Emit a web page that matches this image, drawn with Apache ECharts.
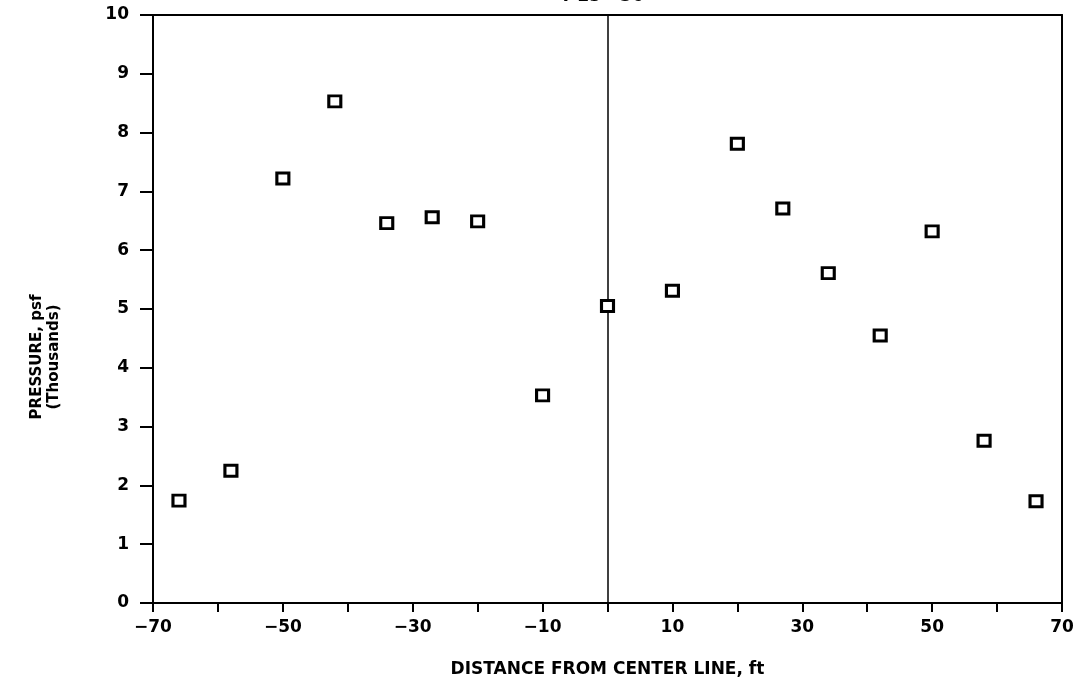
<!DOCTYPE html>
<html>
<head>
<meta charset="utf-8">
<script src="https://cdn.jsdelivr.net/npm/echarts@6/dist/echarts.min.js"></script>
<style>
  html, body { margin: 0; padding: 0; background: #fff; }
  #chart { width: 1090px; height: 686px; }
</style>
</head>
<body>
<div id="chart"></div>
<script>
// distance from center line (ft) and pressure (thousands psf)
const distances = [-66, -58, -50, -42, -34, -27, -20, -10, 0, 10, 20, 27, 34, 42, 50, 58, 66];
const pressures = [1.74, 2.25, 7.22, 8.53, 6.46, 6.56, 6.49, 3.53, 5.05, 5.31, 7.81, 6.71, 5.61, 4.55, 6.32, 2.76, 1.73];
const xLabelTicks = [-70, -50, -30, -10, 10, 30, 50, 70];
const titleText = "T 25 - 36";

const font = "DejaVu Sans";
const points = distances.map((d, i) => [d, pressures[i]]);

const chart = echarts.init(document.getElementById("chart"));
const option = {
  backgroundColor: "#fff",
  animation: false,
  grid: { left: 153, right: 28, top: 15, bottom: 83 },
  graphic: [
    {
      type: "text",
      x: 560,
      y: -12,
      style: {
        text: titleText,
        font: "bold 17px " + font,
        fill: "#000"
      }
    },
    {
      type: "text",
      x: 46,
      y: 357,
      rotation: Math.PI / 2,
      style: {
        text: "PRESSURE, psf\n(Thousands)",
        font: "bold 15px " + font,
        lineHeight: 17,
        align: "center",
        verticalAlign: "middle",
        fill: "#000"
      }
    }
  ],
  xAxis: [
    {
      type: "value",
      min: -70,
      max: 70,
      interval: 10,
      name: "DISTANCE FROM CENTER LINE, ft",
      nameLocation: "middle",
      nameGap: 58,
      nameTextStyle: { color: "#000", fontFamily: font, fontWeight: "bold", fontSize: 17 },
      splitLine: { show: false },
      axisLine: { onZero: false, lineStyle: { color: "#000", width: 2 } },
      axisTick: { length: 9, lineStyle: { color: "#000", width: 2 } },
      axisLabel: {
        color: "#000",
        fontFamily: font,
        fontWeight: "bold",
        fontSize: 17,
        margin: 16,
        formatter: function (v) {
          return xLabelTicks.indexOf(v) >= 0 ? String(v).replace("-", "\u2212") : "";
        }
      }
    },
    {
      type: "value",
      position: "top",
      min: -70,
      max: 70,
      splitLine: { show: false },
      axisLine: { onZero: false, lineStyle: { color: "#000", width: 2 } },
      axisTick: { show: false },
      axisLabel: { show: false }
    }
  ],
  yAxis: [
    {
      type: "value",
      min: 0,
      max: 10,
      interval: 1,
      splitLine: { show: false },
      axisLine: { onZero: false, lineStyle: { color: "#000", width: 2 } },
      axisTick: { length: 13, lineStyle: { color: "#000", width: 2 } },
      axisLabel: {
        color: "#000",
        fontFamily: font,
        fontWeight: "bold",
        fontSize: 17,
        margin: 24
      }
    },
    {
      type: "value",
      position: "right",
      min: 0,
      max: 10,
      splitLine: { show: false },
      axisLine: { onZero: false, lineStyle: { color: "#000", width: 2 } },
      axisTick: { show: false },
      axisLabel: { show: false }
    }
  ],
  series: [
    {
      type: "scatter",
      data: points,
      symbol: "rect",
      symbolSize: [12, 11],
      itemStyle: { color: "#fff", borderColor: "#000", borderWidth: 3, opacity: 1 },
      z: 5,
      markLine: {
        silent: true,
        symbol: ["none", "none"],
        label: { show: false },
        lineStyle: { color: "#000", width: 1.5, type: "solid" },
        data: [{ xAxis: 0 }]
      }
    }
  ]
};
chart.setOption(option);
window.addEventListener("resize", function () {
  chart.resize();
});
</script>
</body>
</html>
